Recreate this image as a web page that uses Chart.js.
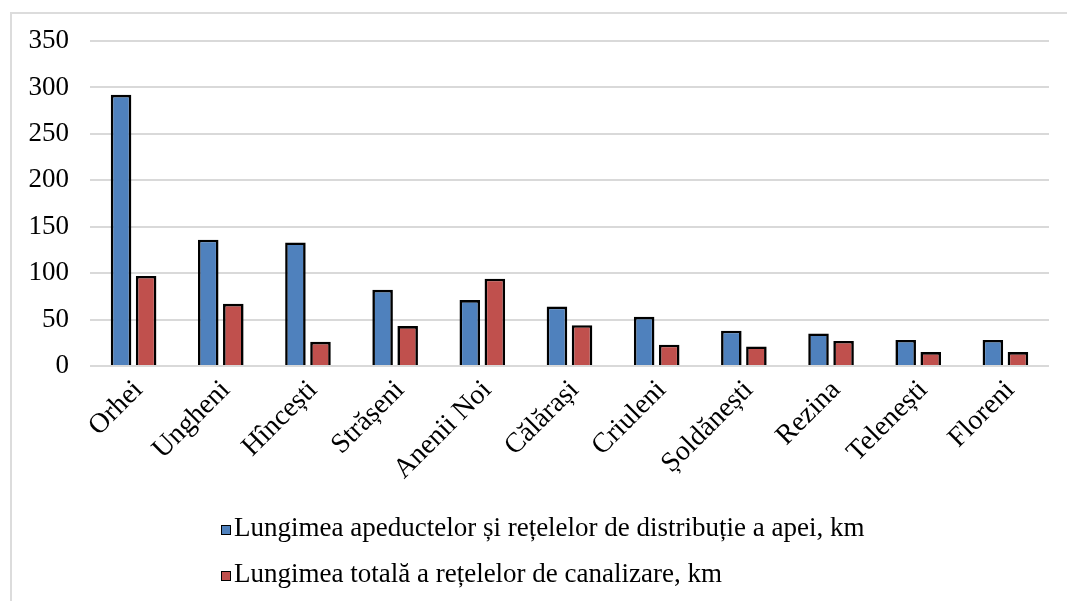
<!DOCTYPE html>
<html>
<head>
<meta charset="utf-8">
<script src="https://cdn.jsdelivr.net/npm/chart.js@4"></script>
<style>
  body { margin: 0; background: #fff; }
  .wrap { position: relative; width: 1067px; height: 601px; overflow: hidden; }
  .frame { position: absolute; left: 10px; top: 12px; width: 1100px; height: 700px;
           border-left: 2px solid #dcdcdc; border-top: 2px solid #dcdcdc; }
  canvas { position: absolute; left: 0; top: 0; }
  .legend { position: absolute; left: 221px; top: 504px; font-family: "Liberation Serif", "Times New Roman", serif;
            font-size: 27px; color: #000; }
  .legend div { height: 46px; line-height: 46px; white-space: nowrap; }
  .legend span.box { display: inline-block; width: 8px; height: 8px; border: 1.5px solid #000;
                     margin-right: 3px; vertical-align: 1px; }
</style>
</head>
<body>
<div class="wrap">
  <div class="frame"></div>
  <canvas id="myChart" width="1067" height="601"></canvas>
  <div class="legend" id="legend"></div>
</div>
<script>
const categories = ["Orhei", "Ungheni", "Hîncești", "Strășeni", "Anenii Noi", "Călărași",
  "Criuleni", "Șoldănești", "Rezina", "Telenești", "Floreni"];
const apeducte = [292, 136, 133, 82, 71, 64, 53, 38, 35, 28, 28];
const canalizare = [97, 67, 26, 43, 94, 44, 23, 21, 27, 15, 15];
const seriesNames = ["Lungimea apeductelor și rețelelor de distribuție a apei, km",
  "Lungimea totală a rețelelor de canalizare, km"];
const seriesColors = ["#4F81BD", "#C0504D"];
const yTicks = [0, 50, 100, 150, 200, 250, 300, 350];

const serif = "'Liberation Serif', 'Times New Roman', serif";

const ctx = document.getElementById("myChart");

new Chart(ctx, {
  type: "bar",
  data: {
    labels: categories,
    datasets: [
      { label: seriesNames[0], data: apeducte, backgroundColor: seriesColors[0] },
      { label: seriesNames[1], data: canalizare, backgroundColor: seriesColors[1] },
    ],
  },
  options: {
    responsive: false,
    animation: false,
    layout: { padding: { left: 0, top: 41, right: 18, bottom: 0 } },
    datasets: {
      bar: {
        borderColor: "#000",
        borderWidth: 2.6,
        categoryPercentage: 0.575,
        barPercentage: 0.82,
      },
    },
    plugins: {
      legend: { display: false },
      tooltip: { enabled: false },
    },
    scales: {
      x: {
        grid: { display: false },
        border: { display: false },
        ticks: {
          color: "#000",
          font: { family: serif, size: 28 },
          minRotation: 45,
          maxRotation: 45,
          autoSkip: false,
          padding: 0,
          labelOffset: 5,
        },
        afterFit: (s) => { s.height = 235; },
      },
      y: {
        min: 0,
        max: 350,
        afterBuildTicks: (s) => { s.ticks = yTicks.map((v) => ({ value: v })); },
        grid: { color: "#d9d9d9", lineWidth: 2, drawTicks: false },
        border: { display: false },
        ticks: { color: "#000", font: { family: serif, size: 27 }, padding: 21 },
        afterFit: (s) => { s.width = 90; },
      },
    },
  },
});

let html = "";
seriesNames.forEach((name, i) => {
  html += `<div><span class="box" style="background:${seriesColors[i]}"></span>${name}</div>`;
});
document.getElementById("legend").innerHTML = html;
</script>
</body>
</html>
